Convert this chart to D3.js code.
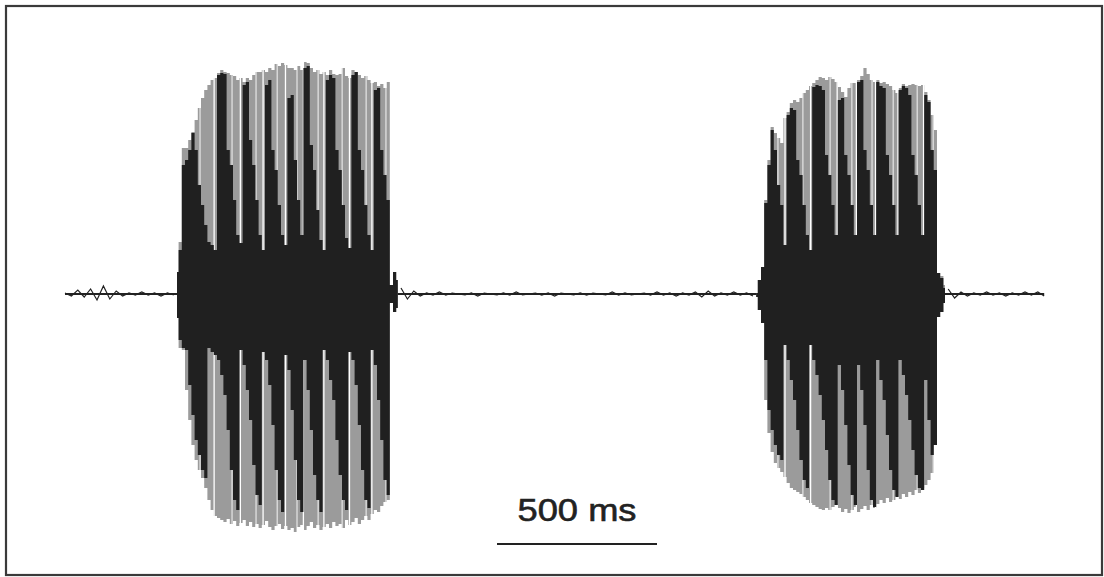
<!DOCTYPE html>
<html><head><meta charset="utf-8">
<script src="https://cdn.jsdelivr.net/npm/d3@7"></script>
<style>html,body{margin:0;padding:0;background:#fff;}svg{display:block;}</style>
</head><body>
<svg id="chart" width="1104" height="577"></svg>
<script>
// time axis in ms, amplitude in arbitrary units (baseline = 0)
const sampleStep = 10;               // ms between envelope samples
const burst1Start = 350;             // ms
const burst2Start = 2160;            // ms

const burst1GrayTop = [22,52,146,146,154,162,174,186,196,204, 209,214,216,221,224,222,221,219,218,214, 216,212,216,214,219,222,222,224,222,226, 224,230,228,231,229,226,226,224,228,224, 232,231,226,222,224,220,222,219,224,220, 219,220,226,218,216,224,222,219,216,218, 214,211,212,208,210,206,212,9,22,14];
const burst1GrayBot = [-24,-54,-56,-96,-126,-151,-166,-176,-184,-194, -206,-216,-222,-224,-226,-228,-225,-230,-227,-232, -229,-226,-232,-228,-233,-230,-234,-231,-227,-233, -236,-232,-230,-235,-232,-236,-234,-238,-233,-231, -236,-232,-228,-234,-231,-236,-233,-230,-234,-228, -232,-230,-234,-226,-231,-228,-224,-230,-226,-222, -226,-220,-216,-218,-212,-208,-206,-9,-18,-14];
const burst1DarkTop = [22,44,129, 134,144,161,144,109,89,69, 52,49,44, 219,221,220,144,129,94,59, 51, 209,212,154,129,94,59, 44, 209,214,144,124,89,59, 49, 196,199,134,94,59, 226,228,149,124,84,54, 44, 214,219,216,144,124,89,56, 46, 219,222,144,124,89,59, 44, 204,206,144,119,94, 9,22,14];
const burst1DarkBot = [-24,-46,-54, -56,-91,-121,-146,-161,-176,-184, -54,-58,-61, -66,-81,-101,-136,-176,-206,-216, -56, -71,-96,-126,-171,-201,-211, -58, -66,-91,-131,-176,-206,-218, -61, -76,-116,-166,-206,-218, -66,-96,-136,-181,-206,-218, -56, -66,-86,-106,-146,-181,-206,-216, -58, -66,-91,-131,-176,-206,-214, -56, -71,-106,-146,-186,-201, -9,-18,-14];

const burst2GrayTop = [1,14,27,94,134,167,161,156,151,176, 182,191,194,192,196,201,204,208,211,214, 217,216,214,217,215,212,207,202,197,206, 211,211,214,218,226,220,214,212,214,211, 212,210,208,204,201,206,210,208,209,210, 209,208,209,202,194,179,164,21,18,9];
const burst2GrayBot = [-3,-16,-29,-106,-139,-158,-169,-174,-178,-183, -189,-194,-196,-198,-200,-203,-206,-209,-211,-213, -215,-216,-214,-216,-213,-211,-214,-218,-215,-219, -216,-213,-218,-215,-212,-216,-211,-214,-210,-206, -209,-204,-208,-206,-202,-205,-200,-203,-198,-201, -196,-199,-194,-191,-186,-179,-151,-23,-18,-9];
const burst2DarkTop = [1,14,27,91, 129,164,144,109,89, 49, 179,186,184,134,119,89,59, 44, 207,209,208,204,139,119,89,59, 194,196,139,119,89,59, 212,214,144,124,89,59, 212,208,206,139,119,89,59, 204,208,206,199,139,119,89,59, 199,192,144,124, 21,16,6];
const burst2DarkBot = [-3,-16,-29,-66, -116,-136,-151,-161,-166, -51, -66,-86,-106,-136,-166,-186,-194, -51, -66,-81,-101,-126,-156,-186,-206,-211, -71,-96,-131,-171,-201,-211, -71,-96,-131,-176,-206,-213, -66,-86,-106,-141,-176,-196,-203, -66,-81,-101,-126,-156,-181,-194,-196, -86,-126,-161,-151, -23,-18,-9];

// thin white slivers in the oscillogram (ms)
const gapTimes = [466,548,619,689,745,809,889,959, 2250,2330,2413,2473,2533,2603,2683];
const sliverTimes = [422,522,597,663,725,791,866,941,1003, 2228,2306,2391,2459,2522,2588,2663,2713];

// baseline noise (signed amplitude), sampled every 20 ms
const noiseStep = 20;
const noiseAStart = 0;
const noiseA = [1,-2,4,-3,5,-6,8,-5,3,-2,1,-1,2,-1,1,-2,1,-1];
const noiseBStart = 1050;
const noiseB = [6,-5,3,-2,1,-1,2,-1,1,0, -1,1,-2,1,0,-1,1,-1,2,-1, 0,1,-1,1,-2,1,0,-1,1,-1, 1,0,-1,2,-1,1,-1,0,1,-1, 2,-1,1,-2,1,-1,2,-3,3,-2, 1,-1,2,-1,1,-2];
const noiseCStart = 2760;
const noiseC = [5,-4,2,-2,1,-1,2,-1,1,-2,1,-1,2,-1,2,-2];

const traceStart = 0, traceEnd = 3060;
const scaleBarStart = 1350, scaleBarLength = 500;
const scaleBarLabel = "500 ms";

const svg = d3.select("#chart");
const x = d3.scaleLinear().domain([0, 3060]).range([65, 1044.2]);
const y = d3.scaleLinear().domain([-240, 240]).range([534, 54]);

svg.append("rect").attr("x",6).attr("y",6).attr("width",1096).attr("height",569)
  .attr("fill","#fff").attr("stroke","#3a3a3a").attr("stroke-width",2.2);

// baseline
svg.append("line").attr("x1", x(traceStart)).attr("x2", x(traceEnd))
  .attr("y1", y(0)).attr("y2", y(0)).attr("stroke","#222").attr("stroke-width",1.8);

// noise
[[noiseAStart, noiseA],[noiseBStart, noiseB],[noiseCStart, noiseC]].forEach(([s, arr]) => {
  const line = d3.line().x((d,i)=>x(s+i*noiseStep)).y(d=>y(d)).curve(d3.curveLinear);
  svg.append("path").attr("d", line(arr)).attr("fill","none").attr("stroke","#222").attr("stroke-width",1.2);
});

function drawBurst(start, top, bot, fill) {
  const area = d3.area()
    .x((d,i)=>x(start + i*sampleStep))
    .y0((d,i)=>y(bot[i]))
    .y1((d,i)=>y(top[i]))
    .curve(d3.curveStep);
  svg.append("path").attr("d", area(top)).attr("fill", fill);
}

drawBurst(burst1Start, burst1GrayTop, burst1GrayBot, "#9b9b9b");
drawBurst(burst2Start, burst2GrayTop, burst2GrayBot, "#9b9b9b");

// white slivers
svg.selectAll("line.gap").data(gapTimes).enter().append("line").attr("class","gap")
  .attr("x1", d=>x(d)).attr("x2", d=>x(d))
  .attr("y1", y(235)).attr("y2", y(-240))
  .attr("stroke","#fff").attr("stroke-width",1.3);
svg.selectAll("line.sliver").data(sliverTimes).enter().append("line").attr("class","sliver")
  .attr("x1", d=>x(d)).attr("x2", d=>x(d))
  .attr("y1", y(235)).attr("y2", y(-240))
  .attr("stroke","#fff").attr("stroke-width",0.9);

drawBurst(burst1Start, burst1DarkTop, burst1DarkBot, "#202020");
drawBurst(burst2Start, burst2DarkTop, burst2DarkBot, "#202020");

// scale bar
svg.append("line").attr("x1", x(scaleBarStart)).attr("x2", x(scaleBarStart+scaleBarLength))
  .attr("y1", 544).attr("y2", 544).attr("stroke","#222").attr("stroke-width",2.2);
svg.append("text").attr("x", x(scaleBarStart+scaleBarLength/2)).attr("y", 521)
  .attr("text-anchor","middle").attr("font-family","Liberation Sans, Arial, sans-serif")
  .attr("font-size", 32).attr("fill","#222").attr("stroke","#222").attr("stroke-width",0.6)
  .attr("textLength", 119).attr("lengthAdjust","spacingAndGlyphs")
  .text(scaleBarLabel);
</script>
</body></html>
